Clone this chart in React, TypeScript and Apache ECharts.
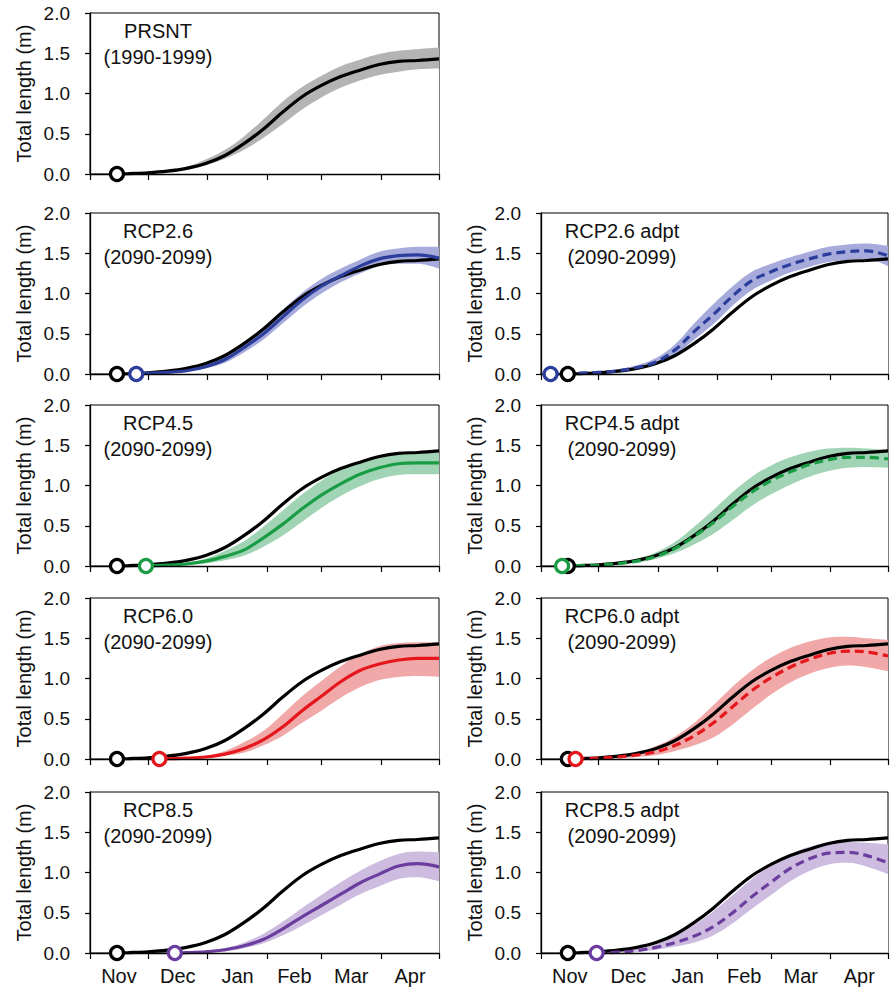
import React, { useEffect, useRef } from 'react';
import * as echarts from 'echarts';

// ---- axes ----
const DAYS = [14, 20, 30, 40, 50, 60, 70, 80, 90, 100, 110, 120, 130, 140, 150, 160, 170, 181];
const MONTHS = ['Nov', 'Dec', 'Jan', 'Feb', 'Mar', 'Apr'];
const MONTH_EDGES = [0, 30, 61, 92, 120, 151, 181];
const MONTH_MID = [15, 45.5, 76.5, 106, 135.5, 166];

// ---- present (1990-1999) ----
const PRSNT_START = 14;
const PRSNT_MEAN = [null, 0.005, 0.015, 0.035, 0.07, 0.13, 0.23, 0.38, 0.56, 0.77, 0.96, 1.1, 1.21, 1.29, 1.36, 1.4, 1.41, 1.43];
const PRSNT_LO = [null, 0.003, 0.01, 0.02, 0.05, 0.11, 0.19, 0.3, 0.45, 0.62, 0.8, 0.95, 1.07, 1.16, 1.23, 1.27, 1.3, 1.31];
const PRSNT_HI = [null, 0.008, 0.02, 0.045, 0.09, 0.18, 0.3, 0.47, 0.68, 0.9, 1.08, 1.22, 1.34, 1.42, 1.49, 1.53, 1.55, 1.57];

// ---- RCP2.6 ----
const RCP26_START = 24;
const RCP26_MEAN = [null, null, 0.01, 0.02, 0.04, 0.09, 0.18, 0.33, 0.5, 0.71, 0.92, 1.09, 1.22, 1.34, 1.43, 1.47, 1.48, 1.44];
const RCP26_LO = [null, null, 0.005, 0.01, 0.03, 0.07, 0.14, 0.27, 0.43, 0.63, 0.83, 1.0, 1.14, 1.25, 1.34, 1.37, 1.37, 1.31];
const RCP26_HI = [null, null, 0.015, 0.03, 0.06, 0.12, 0.23, 0.4, 0.59, 0.8, 1.01, 1.18, 1.31, 1.42, 1.52, 1.56, 1.58, 1.58];
const RCP26A_START = 5;
const RCP26A_MEAN = [0.005, 0.01, 0.02, 0.04, 0.08, 0.15, 0.3, 0.53, 0.74, 0.97, 1.16, 1.27, 1.36, 1.43, 1.49, 1.52, 1.53, 1.47];
const RCP26A_LO = [0, 0.005, 0.01, 0.03, 0.06, 0.12, 0.24, 0.43, 0.62, 0.85, 1.04, 1.16, 1.26, 1.33, 1.39, 1.42, 1.43, 1.34];
const RCP26A_HI = [0.01, 0.015, 0.03, 0.06, 0.11, 0.2, 0.37, 0.63, 0.87, 1.09, 1.27, 1.37, 1.45, 1.52, 1.58, 1.61, 1.62, 1.59];

// ---- RCP4.5 ----
const RCP45_START = 29;
const RCP45_MEAN = [null, null, 0.002, 0.01, 0.025, 0.06, 0.12, 0.2, 0.35, 0.52, 0.71, 0.88, 1.02, 1.14, 1.22, 1.27, 1.28, 1.28];
const RCP45_LO = [null, null, 0, 0.005, 0.015, 0.03, 0.07, 0.13, 0.24, 0.38, 0.55, 0.72, 0.87, 0.99, 1.08, 1.13, 1.14, 1.14];
const RCP45_HI = [null, null, 0.005, 0.02, 0.04, 0.09, 0.19, 0.31, 0.49, 0.69, 0.89, 1.06, 1.2, 1.3, 1.36, 1.4, 1.41, 1.41];
const RCP45A_START = 11;
const RCP45A_MEAN = [0.002, 0.005, 0.012, 0.03, 0.06, 0.12, 0.22, 0.37, 0.54, 0.74, 0.92, 1.06, 1.17, 1.26, 1.32, 1.35, 1.35, 1.33];
const RCP45A_LO = [0, 0.002, 0.008, 0.02, 0.04, 0.09, 0.16, 0.27, 0.4, 0.57, 0.75, 0.89, 1.01, 1.11, 1.18, 1.22, 1.23, 1.22];
const RCP45A_HI = [0.005, 0.01, 0.02, 0.045, 0.09, 0.17, 0.3, 0.49, 0.7, 0.92, 1.11, 1.25, 1.35, 1.42, 1.46, 1.47, 1.46, 1.44];

// ---- RCP6.0 ----
const RCP60_START = 36;
const RCP60_MEAN = [null, null, null, 0.003, 0.01, 0.025, 0.06, 0.13, 0.24, 0.4, 0.6, 0.78, 0.96, 1.1, 1.18, 1.23, 1.25, 1.25];
const RCP60_LO = [null, null, null, 0, 0.005, 0.015, 0.04, 0.08, 0.17, 0.29, 0.45, 0.6, 0.76, 0.89, 0.98, 1.02, 1.03, 1.02];
const RCP60_HI = [null, null, null, 0.005, 0.02, 0.04, 0.1, 0.21, 0.35, 0.56, 0.78, 0.97, 1.15, 1.3, 1.4, 1.44, 1.45, 1.45];
const RCP60A_START = 18;
const RCP60A_MEAN = [null, 0.002, 0.01, 0.025, 0.05, 0.09, 0.17, 0.29, 0.45, 0.65, 0.85, 1.01, 1.14, 1.24, 1.31, 1.34, 1.33, 1.28];
const RCP60A_LO = [null, 0, 0.005, 0.01, 0.025, 0.05, 0.1, 0.17, 0.27, 0.43, 0.62, 0.8, 0.95, 1.06, 1.13, 1.16, 1.14, 1.09];
const RCP60A_HI = [null, 0.005, 0.02, 0.04, 0.08, 0.16, 0.28, 0.45, 0.67, 0.9, 1.1, 1.26, 1.38, 1.46, 1.51, 1.52, 1.5, 1.48];

// ---- RCP8.5 ----
const RCP85_START = 44;
const RCP85_MEAN = [null, null, null, null, 0.004, 0.015, 0.04, 0.09, 0.17, 0.3, 0.45, 0.59, 0.73, 0.87, 0.98, 1.08, 1.11, 1.07];
const RCP85_LO = [null, null, null, null, 0, 0.008, 0.02, 0.06, 0.12, 0.22, 0.34, 0.47, 0.6, 0.73, 0.83, 0.92, 0.94, 0.89];
const RCP85_HI = [null, null, null, null, 0.008, 0.025, 0.06, 0.13, 0.24, 0.39, 0.56, 0.72, 0.88, 1.02, 1.14, 1.23, 1.26, 1.25];
const RCP85A_START = 29;
const RCP85A_MEAN = [null, null, 0.001, 0.01, 0.03, 0.07, 0.13, 0.21, 0.33, 0.5, 0.7, 0.88, 1.05, 1.17, 1.24, 1.25, 1.21, 1.12];
const RCP85A_LO = [null, null, 0, 0.005, 0.015, 0.04, 0.08, 0.13, 0.22, 0.37, 0.55, 0.72, 0.89, 1.02, 1.1, 1.12, 1.07, 0.98];
const RCP85A_HI = [null, null, 0.002, 0.02, 0.05, 0.11, 0.21, 0.35, 0.52, 0.72, 0.92, 1.09, 1.23, 1.32, 1.37, 1.38, 1.37, 1.35];

const FONT = '"Liberation Sans", Arial, Helvetica, sans-serif';

const COL_LEFT = [90, 541];
const COL_WIDTH = [349, 347];
const ROW_TOP = [13, 213, 405, 598, 792];
const ROW_H = 161;
const TITLE_DX = [68, 81];

type Panel = {
  title: string; period: string; row: number; col: number;
  start: number; mean: (number | null)[]; lo: (number | null)[]; hi: (number | null)[];
  line: string; band: string; dashed: boolean; base: boolean;
};

const PANELS: Panel[] = [
  { title: 'PRSNT', period: '(1990-1999)', row: 0, col: 0, start: PRSNT_START, mean: PRSNT_MEAN, lo: PRSNT_LO, hi: PRSNT_HI, line: '#000000', band: '#b4b4b4', dashed: false, base: true },
  { title: 'RCP2.6', period: '(2090-2099)', row: 1, col: 0, start: RCP26_START, mean: RCP26_MEAN, lo: RCP26_LO, hi: RCP26_HI, line: '#2c3e9c', band: '#a6abdb', dashed: false, base: false },
  { title: 'RCP2.6 adpt', period: '(2090-2099)', row: 1, col: 1, start: RCP26A_START, mean: RCP26A_MEAN, lo: RCP26A_LO, hi: RCP26A_HI, line: '#2c3e9c', band: '#a6abdb', dashed: true, base: false },
  { title: 'RCP4.5', period: '(2090-2099)', row: 2, col: 0, start: RCP45_START, mean: RCP45_MEAN, lo: RCP45_LO, hi: RCP45_HI, line: '#1a9c45', band: '#a0d4b4', dashed: false, base: false },
  { title: 'RCP4.5 adpt', period: '(2090-2099)', row: 2, col: 1, start: RCP45A_START, mean: RCP45A_MEAN, lo: RCP45A_LO, hi: RCP45A_HI, line: '#1a9c45', band: '#a0d4b4', dashed: true, base: false },
  { title: 'RCP6.0', period: '(2090-2099)', row: 3, col: 0, start: RCP60_START, mean: RCP60_MEAN, lo: RCP60_LO, hi: RCP60_HI, line: '#e5171c', band: '#f0a8a8', dashed: false, base: false },
  { title: 'RCP6.0 adpt', period: '(2090-2099)', row: 3, col: 1, start: RCP60A_START, mean: RCP60A_MEAN, lo: RCP60A_LO, hi: RCP60A_HI, line: '#e5171c', band: '#f0a8a8', dashed: true, base: false },
  { title: 'RCP8.5', period: '(2090-2099)', row: 4, col: 0, start: RCP85_START, mean: RCP85_MEAN, lo: RCP85_LO, hi: RCP85_HI, line: '#6a3d9e', band: '#cdbce0', dashed: false, base: false },
  { title: 'RCP8.5 adpt', period: '(2090-2099)', row: 4, col: 1, start: RCP85A_START, mean: RCP85A_MEAN, lo: RCP85A_LO, hi: RCP85A_HI, line: '#6a3d9e', band: '#cdbce0', dashed: true, base: false },
];

function build(start: number, vals: (number | null)[]): [number, number][] {
  const out: [number, number][] = [[start, 0]];
  DAYS.forEach((d, i) => {
    const v = vals[i];
    if (d > start && v !== null && v !== undefined) out.push([d, v]);
  });
  return out;
}

const SMOOTH = 0.35;

function buildOption() {
  const grid: any[] = [];
  const xAxis: any[] = [];
  const yAxis: any[] = [];
  const series: any[] = [];
  const graphic: any[] = [];

  PANELS.forEach((p, i) => {
    const top = ROW_TOP[p.row];
    const left = COL_LEFT[p.col];
    grid.push({ left, top, width: COL_WIDTH[p.col], height: ROW_H, show: true, borderColor: '#000', borderWidth: 1, backgroundColor: 'transparent' });
    const bottomRow = p.row === 4;
    xAxis.push({
      type: 'value', gridIndex: i, min: 0, max: 181, z: 10,
      axisLine: { show: true, lineStyle: { color: '#000', width: 1.3 } },
      axisTick: { show: true, inside: false, length: 6, customValues: MONTH_EDGES, lineStyle: { color: '#000', width: 1.2 } },
      axisLabel: {
        show: bottomRow, customValues: MONTH_MID, margin: 13,
        fontSize: 20, fontFamily: FONT, color: '#111',
        formatter: (v: number) => { const k = MONTH_MID.indexOf(v); return k >= 0 ? MONTHS[k] : ''; },
      },
      splitLine: { show: false },
    });
    yAxis.push({
      type: 'value', gridIndex: i, min: 0, max: 2, interval: 0.5, z: 10,
      name: 'Total length (m)', nameLocation: 'middle', nameGap: 56,
      nameTextStyle: { fontSize: 20, fontFamily: FONT, color: '#111' },
      axisLine: { show: true, lineStyle: { color: '#000', width: 1.3 } },
      axisTick: { show: true, inside: false, length: 5, lineStyle: { color: '#000', width: 1.2 } },
      axisLabel: { fontSize: 19, fontFamily: FONT, color: '#111', margin: 20, formatter: (v: number) => v.toFixed(1) },
      splitLine: { show: false },
    });

    // band: upper area in band colour, lower area masked in white
    series.push({
      type: 'line', xAxisIndex: i, yAxisIndex: i, data: build(p.start, p.hi),
      symbol: 'none', smooth: SMOOTH, lineStyle: { width: 0, opacity: 0 },
      areaStyle: { color: p.band, opacity: 1 }, silent: true, z: 1,
    });
    series.push({
      type: 'line', xAxisIndex: i, yAxisIndex: i, data: build(p.start, p.lo),
      symbol: 'none', smooth: SMOOTH, lineStyle: { width: 0, opacity: 0 },
      areaStyle: { color: '#ffffff', opacity: 1 }, silent: true, z: 2,
    });
    // baseline black curve
    series.push({
      type: 'line', xAxisIndex: i, yAxisIndex: i, data: build(PRSNT_START, PRSNT_MEAN),
      symbol: 'none', smooth: SMOOTH, lineStyle: { color: '#000', width: 3.2 }, z: 3, clip: false, silent: true,
    });
    if (!p.base) {
      series.push({
        type: 'line', xAxisIndex: i, yAxisIndex: i, data: build(p.start, p.mean),
        symbol: 'none', smooth: SMOOTH,
        lineStyle: { color: p.line, width: 3.2, type: p.dashed ? [9, 5] : 'solid' }, z: 4, clip: false, silent: true,
      });
    }
    series.push({
      type: 'scatter', xAxisIndex: i, yAxisIndex: i, data: [[PRSNT_START, 0]], symbol: 'circle', symbolSize: 13,
      itemStyle: { color: '#fff', borderColor: '#000', borderWidth: 3.2, opacity: 1 }, z: 11, clip: false, silent: true,
    });
    if (!p.base) {
      series.push({
        type: 'scatter', xAxisIndex: i, yAxisIndex: i, data: [[p.start, 0]], symbol: 'circle', symbolSize: 13,
        itemStyle: { color: '#fff', borderColor: p.line, borderWidth: 3.2, opacity: 1 }, z: 12, clip: false, silent: true,
      });
    }
    graphic.push({
      type: 'text', x: left + TITLE_DX[p.col], y: top + 5, z: 20,
      style: { text: p.title + '\n' + p.period, align: 'center', verticalAlign: 'top', fontSize: 20, lineHeight: 26, fontFamily: FONT, fill: '#111' },
    });
  });

  return { animation: false, backgroundColor: '#fff', grid, xAxis, yAxis, series, graphic };
}

export default function App() {
  const ref = useRef<HTMLDivElement>(null);
  useEffect(() => {
    document.body.style.margin = '0';
    if (!ref.current) return;
    const chart = echarts.init(ref.current, undefined, { renderer: 'svg' });
    chart.setOption(buildOption());
    return () => chart.dispose();
  }, []);
  return <div ref={ref} style={{ width: 891, height: 994 }} />;
}
